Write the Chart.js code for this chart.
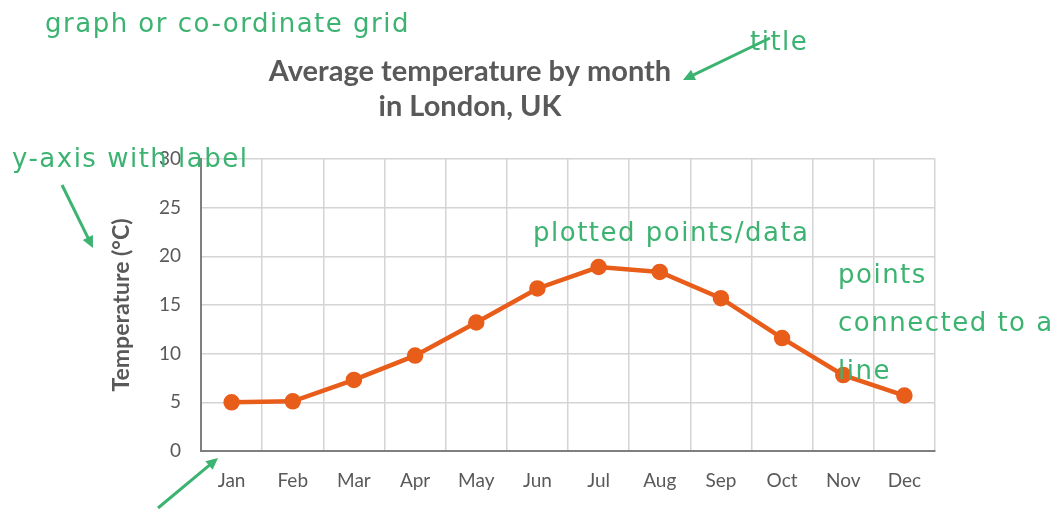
<!DOCTYPE html>
<html>
<head>
<meta charset="utf-8">
<script src="https://cdn.jsdelivr.net/npm/chart.js@4"></script>
<style>
  html, body { margin: 0; padding: 0; background: #fff; }
  #wrap { width: 1061px; height: 510px; }
</style>
</head>
<body>
<div id="wrap"><canvas id="chart"></canvas></div>
<script>
// chart data
const months = ['Jan', 'Feb', 'Mar', 'Apr', 'May', 'Jun', 'Jul', 'Aug', 'Sep', 'Oct', 'Nov', 'Dec'];
const avgTemps = [5.0, 5.1, 7.3, 9.8, 13.2, 16.7, 18.9, 18.4, 15.7, 11.6, 7.8, 5.7];
const titleLines = ['Average temperature by month', 'in London, UK'];
const yTitle = 'Temperature (°C)';

// green teaching notes drawn on top
const notes = [
  { text: 'graph or co-ordinate grid', x: 45, y: 32 },
  { text: 'title', x: 750, y: 50 },
  { text: 'y-axis with label', x: 12, y: 167 },
  { text: 'plotted points/data', x: 533, y: 241 },
  { text: 'points', x: 838, y: 283 },
  { text: 'connected to a', x: 838, y: 331 },
  { text: 'line', x: 838, y: 379 },
];
const arrows = [
  { from: [770, 38], to: [683, 80] },
  { from: [62, 185], to: [93, 248] },
  { from: [158, 508], to: [218, 458] },
];

const GREEN = '#3cb371';
const GREY = '#595959';

const notesPlugin = {
  id: 'notes',
  afterLayout(chart) {
    // the title sits centred a little left of the plot
    const t = chart.titleBlock;
    if (t) { t.left = 5; t.right = 935; }
  },
  afterDraw(chart) {
    const ctx = chart.ctx;
    ctx.save();
    ctx.fillStyle = GREEN;
    ctx.strokeStyle = GREEN;
    ctx.font = '26px "DejaVu Sans"';
    ctx.letterSpacing = '1.5px';
    ctx.textBaseline = 'alphabetic';
    notes.forEach((n) => ctx.fillText(n.text, n.x, n.y));

    ctx.lineWidth = 3;
    arrows.forEach((a) => {
      const [x1, y1] = a.from;
      const [x2, y2] = a.to;
      const ang = Math.atan2(y2 - y1, x2 - x1);
      ctx.beginPath();
      ctx.moveTo(x1, y1);
      ctx.lineTo(x2 - 6 * Math.cos(ang), y2 - 6 * Math.sin(ang));
      ctx.stroke();
      ctx.beginPath();
      ctx.moveTo(x2, y2);
      ctx.lineTo(x2 - 13 * Math.cos(ang - 0.45), y2 - 13 * Math.sin(ang - 0.45));
      ctx.lineTo(x2 - 13 * Math.cos(ang + 0.45), y2 - 13 * Math.sin(ang + 0.45));
      ctx.closePath();
      ctx.fill();
    });
    ctx.restore();
  }
};

const ctx = document.getElementById('chart').getContext('2d');
const myChart = new Chart(ctx, {
  type: 'line',
  data: {
    labels: months,
    datasets: [{
      label: 'Average temperature',
      data: avgTemps,
      borderColor: '#e85d1a',
      backgroundColor: '#e85d1a',
      borderWidth: 4.5,
      pointRadius: 6,
      pointHoverRadius: 6,
      tension: 0,
    }],
  },
  options: {
    responsive: true,
    maintainAspectRatio: false,
    animation: false,
    layout: { padding: { top: 0, left: 100, right: 126, bottom: 0 } },
    plugins: {
      legend: { display: false },
      tooltip: { enabled: false },
      title: {
        display: true,
        text: titleLines,
        color: GREY,
        font: { family: 'Lato', size: 29, weight: 'bold', lineHeight: '35px' },
        padding: { top: 54, bottom: 35 },
      },
    },
    scales: {
      x: {
        offset: true,
        grid: { offset: true, color: '#d4d4d4', lineWidth: 1.5, drawTicks: false },
        border: { color: '#7f7f7f', width: 2 },
        ticks: { color: GREY, padding: 18, font: { family: 'Lato', size: 19 } },
        afterFit(scale) { scale.height = 59; },
      },
      y: {
        min: 0,
        max: 30,
        ticks: { stepSize: 5, color: GREY, padding: 20, font: { family: 'Lato', size: 19 } },
        grid: { color: '#d4d4d4', lineWidth: 1.5, drawTicks: false },
        border: { color: '#7f7f7f', width: 2 },
        title: {
          display: true,
          text: yTitle,
          color: GREY,
          padding: { top: 8, bottom: 0 },
          font: { family: 'Lato', size: 23, weight: 'bold' },
        },
        afterFit(scale) { scale.width = 101; },
      },
    },
  },
  plugins: [notesPlugin],
});
</script>
</body>
</html>
